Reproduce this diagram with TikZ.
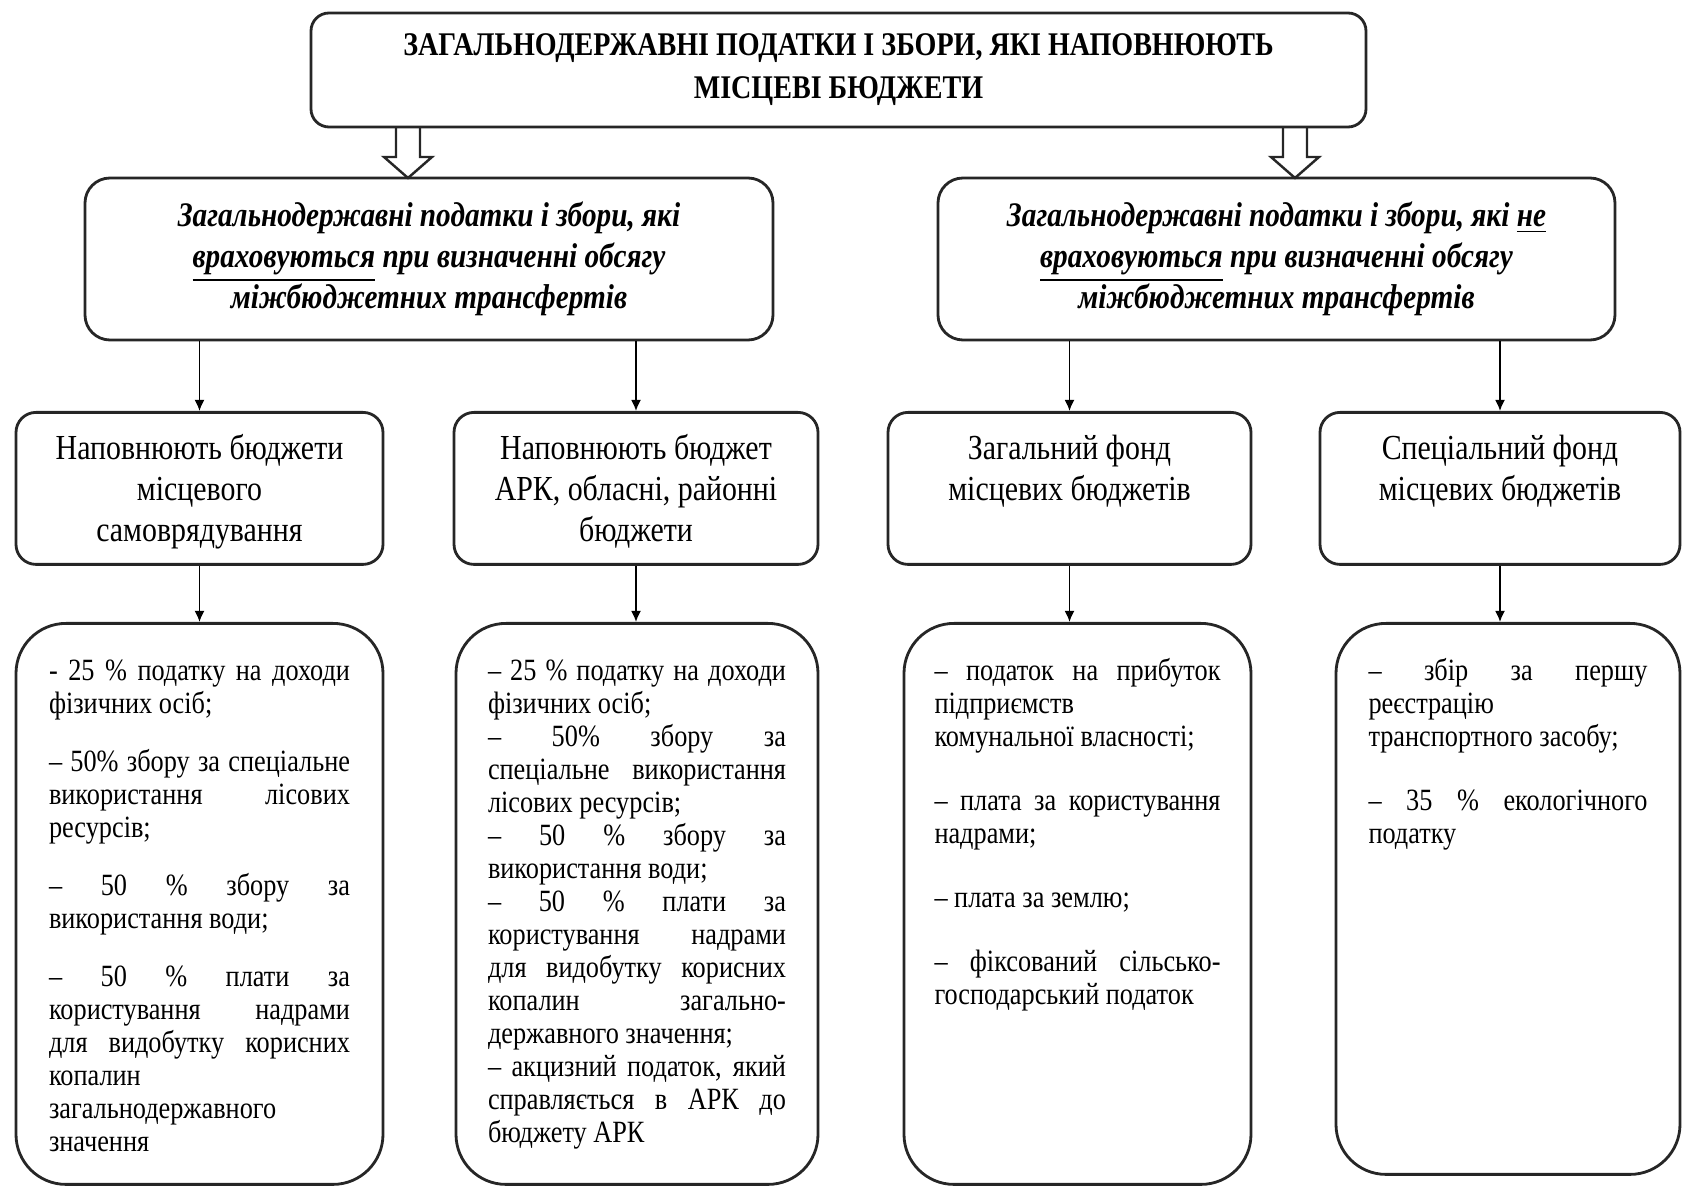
\documentclass[tikz,border=0pt]{standalone}
\usepackage{fontspec}
\setmainfont{Liberation Serif}[FakeStretch=0.85]
\usepackage{tikz}
\usetikzlibrary{arrows.meta}

\begin{document}
\begin{tikzpicture}[
  box/.style={draw=black!85, line width=0.8pt, inner sep=0pt, align=center},
  title/.style={box, rounded corners=0.18cm, font=\fontsize{9.4}{12.2}\selectfont\bfseries},
  group/.style={box, rounded corners=0.25cm, font=\fontsize{9.8}{11.7}\selectfont\bfseries\itshape},
  fund/.style={box, rounded corners=0.2cm, anchor=north, font=\fontsize{10}{11.7}\selectfont},
  list/.style={box, rounded corners=0.5cm, anchor=north, font=\fontsize{8.8}{9.4}\selectfont},
  arr/.style={-{Latex[length=1.1mm,width=1mm]}, line width=0.5pt},
  hollow/.style={draw=black!85, line width=0.7pt}
]
\useasboundingbox (0,0) rectangle (16.82,11.86);

% Top box
\node[title, minimum width=10.55cm, minimum height=1.14cm] (top) at (8.385,11.16)
  {ЗАГАЛЬНОДЕРЖАВНІ ПОДАТКИ І ЗБОРИ, ЯКІ НАПОВНЮЮТЬ\\ МІСЦЕВІ БЮДЖЕТИ};

% Two groups
\node[group, minimum width=6.88cm, minimum height=1.62cm] (inc) at (4.29,9.27)
  {Загальнодержавні податки і збори, які\\ \underline{враховуються} при визначенні обсягу\\ міжбюджетних трансфертів};
\node[group, minimum width=6.77cm, minimum height=1.62cm] (exc) at (12.765,9.27)
  {Загальнодержавні податки і збори, які \underline{не}\\ \underline{враховуються} при визначенні обсягу\\ міжбюджетних трансфертів};

% Hollow arrows
\coordinate (ha) at (4.08,10.59);
\coordinate (hb) at (12.95,10.59);
\foreach \c in {ha,hb} {
  \draw[hollow] ([xshift=-1.2mm]\c) -- ++(0,-3mm) -- ++(-1.2mm,0) -- ++(2.4mm,-2.1mm)
    -- ++(2.4mm,2.1mm) -- ++(-1.2mm,0) -- ++(0,3mm);
}

% Budgets and funds
\node[fund, minimum width=3.67cm] (lsg) at (1.995,7.75)
  {\parbox[c][1.52cm][t]{3.4cm}{\centering\rule{0pt}{0.47cm}Наповнюють бюджети\\ місцевого\\ самоврядування}};
\node[fund, minimum width=3.64cm] (ark) at (6.36,7.75)
  {\parbox[c][1.52cm][t]{3.4cm}{\centering\rule{0pt}{0.47cm}Наповнюють бюджет\\ АРК, обласні, районні\\ бюджети}};
\node[fund, minimum width=3.63cm] (gen) at (10.695,7.75)
  {\parbox[c][1.52cm][t]{3.4cm}{\centering\rule{0pt}{0.47cm}Загальний фонд\\ місцевих бюджетів}};
\node[fund, minimum width=3.60cm] (spec) at (15.0,7.75)
  {\parbox[c][1.52cm][t]{3.4cm}{\centering\rule{0pt}{0.47cm}Спеціальний фонд\\ місцевих бюджетів}};

% Lists of taxes
\node[list, minimum width=3.67cm] (lsgl) at (1.995,5.64)
  {\parbox[c][5.61cm][t]{3.01cm}{\setlength{\parskip}{0.25cm}\rule{0pt}{0.57cm}- 25 \% податку на доходи\linebreak фізичних осіб;\par
   – 50\% збору за спеціальне\linebreak використання лісових\linebreak ресурсів;\par
   – 50 \% збору за\linebreak використання води;\par
   – 50 \% плати за\linebreak користування надрами\linebreak для видобутку корисних\linebreak копалин\\ загальнодержавного\\ значення}};
\node[list, minimum width=3.62cm] (arkl) at (6.37,5.64)
  {\parbox[c][5.61cm][t]{2.98cm}{\rule{0pt}{0.57cm}– 25 \% податку на доходи\linebreak фізичних осіб;\par
   – 50\% збору за\linebreak спеціальне використання\linebreak лісових ресурсів;\par
   – 50 \% збору за\linebreak використання води;\par
   – 50 \% плати за\linebreak користування надрами\linebreak для видобутку корисних\linebreak копалин загально-\linebreak державного значення;\par
   – акцизний податок, який\linebreak справляється в АРК до\linebreak бюджету АРК}};
\node[list, minimum width=3.47cm] (genl) at (10.775,5.64)
  {\parbox[c][5.61cm][t]{2.86cm}{\setlength{\parskip}{0.31cm}\rule{0pt}{0.57cm}– податок на прибуток\linebreak підприємств\\ комунальної власності;\par
   – плата за користування\linebreak надрами;\par
   – плата за землю;\par
   – фіксований сільсько-\linebreak господарський податок}};
\node[list, minimum width=3.44cm] (specl) at (15.08,5.64)
  {\parbox[c][5.51cm][t]{2.79cm}{\setlength{\parskip}{0.31cm}\rule{0pt}{0.57cm}– збір за першу\linebreak реєстрацію\\ транспортного засобу;\par
   – 35 \% екологічного\linebreak податку}};

% Arrows
\foreach \a/\b in {inc/lsg, inc/ark, exc/gen, exc/spec} {
  \draw[arr] (\a.south -| \b.north) -- (\b.north);
}
\foreach \a/\b in {lsg/lsgl, ark/arkl, gen/genl, spec/specl} {
  \draw[arr] (\a.south) -- (\a.south |- \b.north);
}
\end{tikzpicture}
\end{document}
